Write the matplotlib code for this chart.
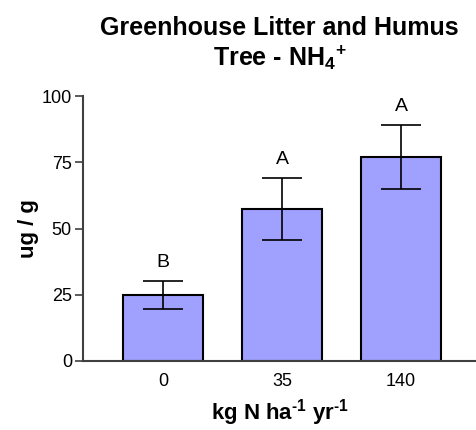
import matplotlib
matplotlib.use('Agg')
import matplotlib.pyplot as plt

plt.rcParams['font.family'] = ['Liberation Sans', 'DejaVu Sans']
plt.rcParams['mathtext.fontset'] = 'custom'
plt.rcParams['mathtext.rm'] = 'Liberation Sans:bold'
plt.rcParams['mathtext.bf'] = 'Liberation Sans:bold'

# data
categories = ['0', '35', '140']
means = [24.9, 57.5, 77.0]
errors = [5.4, 11.7, 12.1]
letters = ['B', 'A', 'A']

fig = plt.figure(figsize=(4.76, 4.30), dpi=100)
ax = fig.add_axes([0.1744, 0.1605, 0.8256, 0.6162])

x_pos = list(range(len(categories)))
ax.bar(x_pos, means, width=0.67, color='#a0a0ff', edgecolor='black', linewidth=1.5, zorder=2)
ax.errorbar(x_pos, means, yerr=errors, fmt='none', ecolor='black', elinewidth=1.2,
            capsize=14.5, capthick=1.2, zorder=3)

for x, m, e, lab in zip(x_pos, means, errors, letters):
    ax.annotate(lab, (x, m + e), xytext=(0, 7), textcoords='offset points',
                ha='center', va='bottom', fontsize=14)

ax.set_xlim(-0.672, 2.63)
ax.set_ylim(0, 100)
ax.set_yticks([0, 25, 50, 75, 100])
ax.set_xticks(x_pos)
ax.set_xticklabels(categories)
ax.tick_params(axis='y', length=6, width=1.2, color='#404040', labelsize=13, pad=2)
ax.tick_params(axis='x', length=0, labelsize=13, pad=9)

for s in ['top', 'right']:
    ax.spines[s].set_visible(False)
for s in ['left', 'bottom']:
    ax.spines[s].set_linewidth(1.5)
    ax.spines[s].set_color('#404040')

ax.set_ylabel('ug / g', fontsize=16, fontweight='bold')
ax.yaxis.set_label_coords(-0.112, 0.5)
ax.set_xlabel(r'kg N ha$^{\text{-1}}$ yr$^{\text{-1}}$', fontsize=16, fontweight='bold', labelpad=5)
ax.set_title('Greenhouse Litter and Humus\nTree - NH$_{\\text{4}}$$^{\\text{+}}$',
             fontsize=18, fontweight='bold', pad=22, linespacing=1.15)

fig.savefig('out.png', dpi=100)
